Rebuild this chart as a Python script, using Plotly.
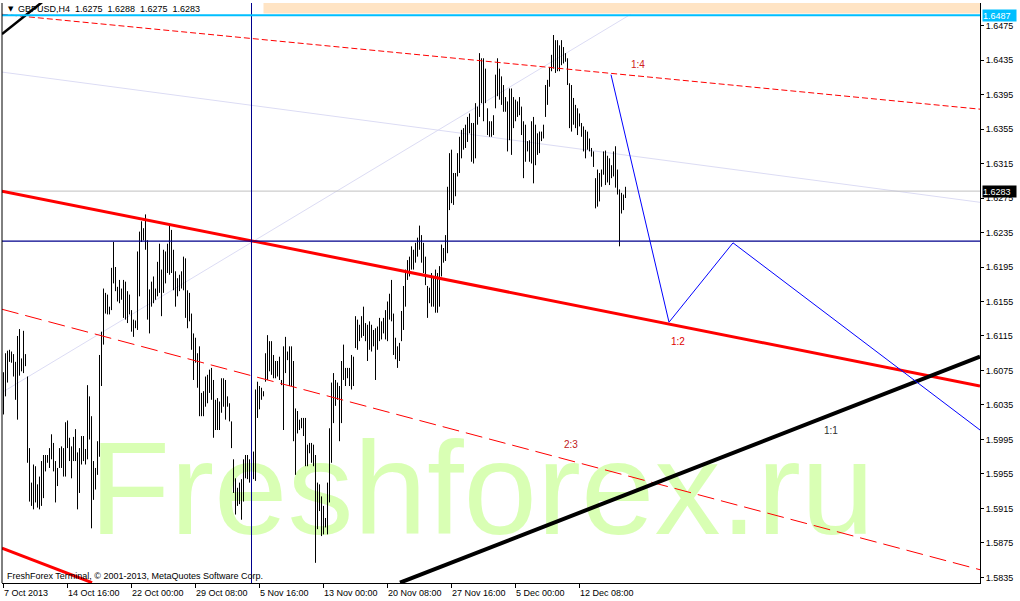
import plotly.graph_objects as go

# ---------------- data (GBPUSD H4 bars) ----------------
highs = [
    1.6073, 1.6095, 1.6098, 1.6099, 1.6097, 1.6094, 1.6085, 1.6115, 1.6123, 1.6089,
    1.6121, 1.6094, 1.6068, 1.5985, 1.5945, 1.5966, 1.5964, 1.5943, 1.5952, 1.5970,
    1.5977, 1.5977, 1.5977, 1.5985, 1.6001, 1.5991, 1.5970, 1.5962, 1.5985, 1.5987,
    1.5985, 1.6015, 1.6017, 1.5997, 1.5987, 1.5998, 1.6007, 1.5980, 1.5985, 1.5999,
    1.5999, 1.5984, 1.6058, 1.6045, 1.6022, 1.5970, 1.5962, 1.5993, 1.6093, 1.6120,
    1.6170, 1.6165, 1.6163, 1.6149, 1.6194, 1.6224, 1.6195, 1.6172, 1.6180, 1.6170,
    1.6180, 1.6178, 1.6167, 1.6163, 1.6145, 1.6134, 1.6133, 1.6213, 1.6236, 1.6248,
    1.6240, 1.6256, 1.6226, 1.6169, 1.6178, 1.6184, 1.6170, 1.6201, 1.6222, 1.6192,
    1.6215, 1.6213, 1.6222, 1.6245, 1.6238, 1.6215, 1.6190, 1.6182, 1.6186, 1.6190,
    1.6207, 1.6205, 1.6168, 1.6165, 1.6141, 1.6118, 1.6113, 1.6095, 1.6103, 1.6049,
    1.6051, 1.6068, 1.6070, 1.6076, 1.6078, 1.6064, 1.6041, 1.6043, 1.6039, 1.6066,
    1.6066, 1.6064, 1.6045, 1.6037, 1.6016, 1.5972, 1.5950, 1.5939, 1.5945, 1.5949,
    1.5972, 1.5977, 1.5977, 1.5972, 1.5981, 1.5981, 1.6053, 1.6062, 1.6057, 1.6055,
    1.6051, 1.6095, 1.6116, 1.6109, 1.6109, 1.6093, 1.6086, 1.6086, 1.6091, 1.6064,
    1.6103, 1.6114, 1.6097, 1.6103, 1.6103, 1.6086, 1.6031, 1.6028, 1.6018, 1.6020,
    1.6020, 1.6020, 1.5989, 1.5991, 1.5991, 1.5989, 1.5977, 1.5945, 1.5943, 1.5929,
    1.5918, 1.5904, 1.5945, 1.6008, 1.6061, 1.6072, 1.6064, 1.6061, 1.6057, 1.6086,
    1.6105, 1.6078, 1.6078, 1.6078, 1.6093, 1.6091, 1.6138, 1.6134, 1.6128, 1.6138,
    1.6149, 1.6130, 1.6128, 1.6132, 1.6128, 1.6122, 1.6124, 1.6126, 1.6136, 1.6132,
    1.6136, 1.6145, 1.6155, 1.6164, 1.6180, 1.6141, 1.6113, 1.6103, 1.6107, 1.6144,
    1.6173, 1.6192, 1.6203, 1.6207, 1.6219, 1.6215, 1.6223, 1.6229, 1.6243, 1.6232,
    1.6223, 1.6207, 1.6173, 1.6171, 1.6188, 1.6184, 1.6192, 1.6188, 1.6196, 1.6221,
    1.6217, 1.6232, 1.6288, 1.6327, 1.6331, 1.6304, 1.6304, 1.6327, 1.6346, 1.6354,
    1.6356, 1.6360, 1.6369, 1.6373, 1.6362, 1.6362, 1.6385, 1.6381, 1.6443, 1.6437,
    1.6437, 1.6425, 1.6379, 1.6364, 1.6364, 1.6371, 1.6418, 1.6437, 1.6425, 1.6416,
    1.6406, 1.6392, 1.6387, 1.6402, 1.6402, 1.6392, 1.6389, 1.6387, 1.6392, 1.6381,
    1.6364, 1.6360, 1.6341, 1.6342, 1.6364, 1.6369, 1.6360, 1.6350, 1.6352, 1.6352,
    1.6360, 1.6406, 1.6412, 1.6427, 1.6441, 1.6464, 1.6458, 1.6458, 1.6452, 1.6458,
    1.6450, 1.6443, 1.6437, 1.6408, 1.6406, 1.6391, 1.6383, 1.6379, 1.6373, 1.6362,
    1.6358, 1.6354, 1.6352, 1.6344, 1.6333, 1.6329, 1.6298, 1.6308, 1.6304, 1.6308,
    1.6329, 1.6330, 1.6324, 1.6321, 1.6313, 1.6329, 1.6335, 1.6308, 1.6285, 1.6281,
    1.6279, 1.6288,
]
lows = [
    1.6024, 1.6045, 1.6061, 1.6085, 1.6084, 1.6068, 1.6041, 1.6018, 1.6069, 1.6074,
    1.6072, 1.6080, 1.5968, 1.5923, 1.5918, 1.5914, 1.5922, 1.5916, 1.5914, 1.5918,
    1.5927, 1.5958, 1.5968, 1.5962, 1.5972, 1.5958, 1.5922, 1.5941, 1.5962, 1.5962,
    1.5952, 1.5952, 1.5985, 1.5970, 1.5950, 1.5970, 1.5970, 1.5914, 1.5933, 1.5966,
    1.5970, 1.5966, 1.5972, 1.5995, 1.5892, 1.5925, 1.5937, 1.5954, 1.5975, 1.6057,
    1.6105, 1.6141, 1.6140, 1.6140, 1.6145, 1.6176, 1.6167, 1.6155, 1.6153, 1.6157,
    1.6136, 1.6134, 1.6130, 1.6140, 1.6120, 1.6114, 1.6124, 1.6122, 1.6161, 1.6224,
    1.6226, 1.6215, 1.6134, 1.6118, 1.6149, 1.6153, 1.6157, 1.6161, 1.6165, 1.6138,
    1.6165, 1.6176, 1.6188, 1.6186, 1.6188, 1.6168, 1.6149, 1.6161, 1.6167, 1.6170,
    1.6168, 1.6136, 1.6124, 1.6132, 1.6099, 1.6064, 1.6084, 1.6055, 1.6022, 1.6022,
    1.6022, 1.6033, 1.6037, 1.6049, 1.6041, 1.5997, 1.6006, 1.6006, 1.6006, 1.6026,
    1.6033, 1.6018, 1.6033, 1.6016, 1.5985, 1.5933, 1.5908, 1.5918, 1.5920, 1.5902,
    1.5923, 1.5950, 1.5949, 1.5945, 1.5964, 1.5949, 1.5947, 1.6020, 1.6030, 1.6041,
    1.6045, 1.6062, 1.6064, 1.6074, 1.6070, 1.6066, 1.6066, 1.6068, 1.6064, 1.6058,
    1.6006, 1.6072, 1.6087, 1.6057, 1.6057, 1.5993, 1.5954, 1.6002, 1.6006, 1.6008,
    1.5999, 1.5964, 1.5964, 1.5979, 1.5968, 1.5964, 1.5852, 1.5891, 1.5912, 1.5883,
    1.5885, 1.5893, 1.5885, 1.5922, 1.5968, 1.6014, 1.6034, 1.6041, 1.5993, 1.6014,
    1.6064, 1.6057, 1.6066, 1.6057, 1.6053, 1.6057, 1.6101, 1.6099, 1.6109, 1.6113,
    1.6115, 1.6109, 1.6086, 1.6099, 1.6097, 1.6103, 1.6064, 1.6099, 1.6109, 1.6111,
    1.6118, 1.6111, 1.6109, 1.6134, 1.6132, 1.6093, 1.6088, 1.6078, 1.6086, 1.6109,
    1.6122, 1.6149, 1.6180, 1.6184, 1.6192, 1.6192, 1.6200, 1.6207, 1.6215, 1.6200,
    1.6188, 1.6174, 1.6136, 1.6153, 1.6149, 1.6149, 1.6142, 1.6142, 1.6149, 1.6184,
    1.6200, 1.6202, 1.6211, 1.6261, 1.6269, 1.6267, 1.6277, 1.6300, 1.6304, 1.6321,
    1.6331, 1.6333, 1.6340, 1.6350, 1.6317, 1.6315, 1.6321, 1.6360, 1.6369, 1.6385,
    1.6364, 1.6385, 1.6348, 1.6346, 1.6346, 1.6348, 1.6379, 1.6393, 1.6389, 1.6383,
    1.6375, 1.6375, 1.6329, 1.6342, 1.6325, 1.6356, 1.6364, 1.6369, 1.6371, 1.6348,
    1.6298, 1.6317, 1.6329, 1.6317, 1.6315, 1.6292, 1.6313, 1.6325, 1.6327, 1.6341,
    1.6344, 1.6369, 1.6383, 1.6404, 1.6422, 1.6425, 1.6420, 1.6422, 1.6422, 1.6429,
    1.6431, 1.6433, 1.6406, 1.6356, 1.6352, 1.6360, 1.6356, 1.6348, 1.6358, 1.6346,
    1.6329, 1.6321, 1.6331, 1.6329, 1.6323, 1.6311, 1.6263, 1.6265, 1.6271, 1.6288,
    1.6302, 1.6290, 1.6293, 1.6290, 1.6298, 1.6300, 1.6287, 1.6279, 1.6219, 1.6257,
    1.6261, 1.6275,
]

time_labels = ["7 Oct 2013", "14 Oct 16:00", "22 Oct 00:00", "29 Oct 08:00", "5 Nov 16:00",
               "13 Nov 00:00", "20 Nov 08:00", "27 Nov 16:00", "5 Dec 00:00", "12 Dec 08:00"]
time_label_bars = [0, 32, 64, 96, 128, 160, 192, 224, 256, 288]

price_ticks = [1.6475, 1.6435, 1.6395, 1.6355, 1.6315, 1.6275, 1.6235, 1.6195, 1.6155,
               1.6115, 1.6075, 1.6035, 1.5995, 1.5955, 1.5915, 1.5875, 1.5835]

# chart objects (bar index, price anchors)
red_main_bars, red_main_prices = [-0.75, 488.25], [1.6283, 1.6057]
red_upper_bars, red_upper_prices = [-0.75, 488.25], [1.6488, 1.6378]
red_lower_bars, red_lower_prices = [-0.75, 488.25], [1.6146, 1.5844]
red_corner_bars, red_corner_prices = [-0.75, 44.25], [1.5869, 1.5829]
black_main_bars, black_main_prices = [198.25, 488.25], [1.5829, 1.6091]
black_corner_bars, black_corner_prices = [-0.75, 19.25], [1.6465, 1.6502]
lav_up_bars, lav_up_prices = [-0.4, 313.6], [1.6050, 1.6488]
lav_down_bars, lav_down_prices = [-0.75, 488.25], [1.6421, 1.6270]
zigzag_bars = [303.75, 332.75, 364.75, 488.25]
zigzag_prices = [1.6418, 1.6131, 1.6223, 1.6006]
cross_bar, cross_price = 124, 1.6225
bid_price = 1.6283
alert_price = 1.6487
zone_bars, zone_prices = [130, 490], [1.6489, 1.6515]

ratio_texts = ["1:4", "1:2", "2:3", "1:1"]
ratio_bars = [317, 337.25, 283.75, 413.75]
ratio_prices = [1.6430, 1.6109, 1.5989, 1.6005]
ratio_colors = ["#D02020", "#E00000", "#C02020", "#303030"]

WATERMARK = "Freshforex.ru"
WATERMARK_BAR, WATERMARK_PRICE = 239.25, 1.5924

X_MIN, X_MAX = -0.75, 488.25
Y_MIN, Y_MAX = 1.58286, 1.65011
FONT = "Liberation Sans"

fig = go.Figure()

# watermark (below everything)
fig.add_trace(go.Scatter(x=[WATERMARK_BAR], y=[WATERMARK_PRICE], mode="text", text=[WATERMARK],
                         textfont=dict(family=FONT, size=132, color="#D9FFB4"),
                         textposition="middle center", hoverinfo="skip", showlegend=False))

# top zone rectangle
fig.add_trace(go.Scatter(x=[zone_bars[0], zone_bars[1], zone_bars[1], zone_bars[0], zone_bars[0]],
                         y=[zone_prices[0], zone_prices[0], zone_prices[1], zone_prices[1], zone_prices[0]],
                         fill="toself", fillcolor="#FFE4C4", line=dict(width=0),
                         mode="lines", hoverinfo="skip", showlegend=False))


def seg(xs, ys, color, width, dash="solid"):
    fig.add_trace(go.Scatter(x=xs, y=ys, mode="lines",
                             line=dict(color=color, width=width, dash=dash),
                             hoverinfo="skip", showlegend=False))


seg(lav_up_bars, lav_up_prices, "#DCDCF4", 1)
seg(lav_down_bars, lav_down_prices, "#DCDCF4", 1)
seg([X_MIN, X_MAX], [bid_price, bid_price], "#C0C0C0", 1)

# price bars
bx, by = [], []
for i, (h, l) in enumerate(zip(highs, lows)):
    bx += [i, i, None]
    by += [l, h, None]
fig.add_trace(go.Scatter(x=bx, y=by, mode="lines", line=dict(color="black", width=1),
                         hoverinfo="skip", showlegend=False))

seg(red_upper_bars, red_upper_prices, "#FF0000", 1, "6px,3px")
seg(red_lower_bars, red_lower_prices, "#FF0000", 1, "17px,7px")
seg(red_main_bars, red_main_prices, "#FF0000", 3)
seg(red_corner_bars, red_corner_prices, "#FF0000", 3)
seg(black_main_bars, black_main_prices, "#000000", 4)
seg(black_corner_bars, black_corner_prices, "#000000", 2.5)
seg([X_MIN, X_MAX], [cross_price, cross_price], "#00008B", 1.2)
seg([cross_bar, cross_bar], [Y_MIN, Y_MAX], "#00008B", 1)
seg([X_MIN, X_MAX], [alert_price, alert_price], "#00BFFF", 2)
seg(zigzag_bars, zigzag_prices, "#0000FF", 1)

annotations = []
for t, bxv, pv, c in zip(ratio_texts, ratio_bars, ratio_prices, ratio_colors):
    annotations.append(dict(x=bxv, y=pv, xref="x", yref="y", text=t, showarrow=False,
                            font=dict(family=FONT, size=10, color=c),
                            xanchor="center", yanchor="middle"))

for lab, b in zip(time_labels, time_label_bars):
    annotations.append(dict(x=b, y=-0.0172, xref="x", yref="paper", text=lab, showarrow=False,
                            font=dict(family=FONT, size=9, color="black"),
                            xanchor="left", yanchor="middle", xshift=-2))

# header and footer
annotations.append(dict(x=0.004, y=0.9888, xref="paper", yref="paper", text="▼", showarrow=False,
                        font=dict(family="DejaVu Sans", size=7, color="black"),
                        xanchor="left", yanchor="middle"))
annotations.append(dict(x=0.0145, y=0.9888, xref="paper", yref="paper",
                        text="GBPUSD,H4  1.6275  1.6288  1.6275  1.6283", showarrow=False,
                        font=dict(family=FONT, size=9, color="black"),
                        xanchor="left", yanchor="middle"))
annotations.append(dict(x=0.003, y=0.0121, xref="paper", yref="paper",
                        text="FreshForex Terminal, © 2001-2013, MetaQuotes Software Corp.",
                        showarrow=False, font=dict(family=FONT, size=9, color="black"),
                        xanchor="left", yanchor="middle"))

# price tags on the right axis
for val, bg in [(alert_price, "#00BFFF"), (bid_price, "#000000")]:
    annotations.append(dict(x=1, y=val, xref="paper", yref="y", text=f"{val:.4f}", showarrow=False,
                            font=dict(family=FONT, size=9, color="white"), bgcolor=bg,
                            xanchor="left", yanchor="middle", xshift=2, width=33, height=11,
                            borderpad=0, align="left"))

fig.update_layout(
    width=1020, height=601,
    margin=dict(l=2, r=40, t=3, b=18, pad=0),
    paper_bgcolor="white", plot_bgcolor="white",
    showlegend=False,
    annotations=annotations,
    xaxis=dict(range=[X_MIN, X_MAX], showgrid=False, zeroline=False, showline=True,
               linecolor="black", linewidth=1, ticks="outside", ticklen=4, tickcolor="black",
               tickvals=time_label_bars, showticklabels=False, fixedrange=True),
    yaxis=dict(range=[Y_MIN, Y_MAX], side="right", showgrid=False, zeroline=False,
               showline=True, linecolor="black", linewidth=1, ticks="outside", ticklen=3,
               tickcolor="black", tickvals=price_ticks, ticktext=[f"{v:.4f}" for v in price_ticks],
               tickfont=dict(family=FONT, size=9, color="black"), fixedrange=True),
    shapes=[dict(type="line", xref="paper", yref="paper", x0=0, x1=0, y0=0, y1=1,
                 line=dict(color="black", width=1))],
)

fig.write_html("out.html", config={"displayModeBar": False},
               post_script="document.body.style.margin='0';")
